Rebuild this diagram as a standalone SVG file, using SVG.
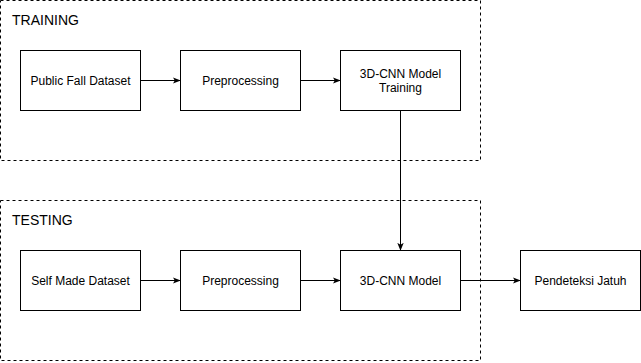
<svg xmlns="http://www.w3.org/2000/svg" width="641" height="363" viewBox="0 0 641 363">
  <style>
    .group { fill: none; stroke: #000; stroke-width: 1; stroke-dasharray: 3 3; }
    .group-label { font-family: "Liberation Sans", Arial, sans-serif; font-size: 14px; fill: #000; }
    .box { fill: #fff; stroke: #000; stroke-width: 1; }
    .label { font-family: "Liberation Sans", Arial, sans-serif; font-size: 12px; fill: #000; text-anchor: middle; }
    .edge { fill: none; stroke: #000; stroke-width: 1; }
  </style>
  <defs>
    <marker id="arrow" viewBox="0 0 10 10" refX="9" refY="5" markerWidth="8" markerHeight="8" markerUnits="userSpaceOnUse" orient="auto">
      <path d="M0,1 L10,5 L0,9 L2.5,5 Z" fill="#000"/>
    </marker>
  </defs>
  <rect width="641" height="363" fill="#fff"/>

  <g id="training">
    <rect class="group" x="0.5" y="0.5" width="480" height="160"/>
    <text class="group-label" x="12" y="25">TRAINING</text>
  </g>
  <g id="testing">
    <rect class="group" x="0.5" y="200.5" width="480" height="160"/>
    <text class="group-label" x="12" y="225">TESTING</text>
  </g>

  <g id="public-fall-dataset">
    <rect class="box" x="20.5" y="50.5" width="120" height="60"/>
    <text class="label" x="80.5" y="84.5">Public Fall Dataset</text>
  </g>
  <g id="preprocessing-train">
    <rect class="box" x="180.5" y="50.5" width="120" height="60"/>
    <text class="label" x="240.5" y="84.5">Preprocessing</text>
  </g>
  <g id="cnn-training">
    <rect class="box" x="340.5" y="50.5" width="120" height="60"/>
    <text class="label" x="400.5" y="78">3D-CNN Model</text>
    <text class="label" x="400.5" y="92">Training</text>
  </g>

  <g id="self-made-dataset">
    <rect class="box" x="20.5" y="250.5" width="120" height="60"/>
    <text class="label" x="80.5" y="284.5">Self Made Dataset</text>
  </g>
  <g id="preprocessing-test">
    <rect class="box" x="180.5" y="250.5" width="120" height="60"/>
    <text class="label" x="240.5" y="284.5">Preprocessing</text>
  </g>
  <g id="cnn-model">
    <rect class="box" x="340.5" y="250.5" width="120" height="60"/>
    <text class="label" x="400.5" y="284.5">3D-CNN Model</text>
  </g>
  <g id="pendeteksi-jatuh">
    <rect class="box" x="520.5" y="250.5" width="120" height="60"/>
    <text class="label" x="580.5" y="284.5">Pendeteksi Jatuh</text>
  </g>

  <g id="connectors">
    <path class="edge" d="M140.5,80.5 H180" marker-end="url(#arrow)"/>
    <path class="edge" d="M300.5,80.5 H340" marker-end="url(#arrow)"/>
    <path class="edge" d="M400.5,110.5 V250" marker-end="url(#arrow)"/>
    <path class="edge" d="M140.5,280.5 H180" marker-end="url(#arrow)"/>
    <path class="edge" d="M300.5,280.5 H340" marker-end="url(#arrow)"/>
    <path class="edge" d="M460.5,280.5 H520" marker-end="url(#arrow)"/>
  </g>
</svg>
